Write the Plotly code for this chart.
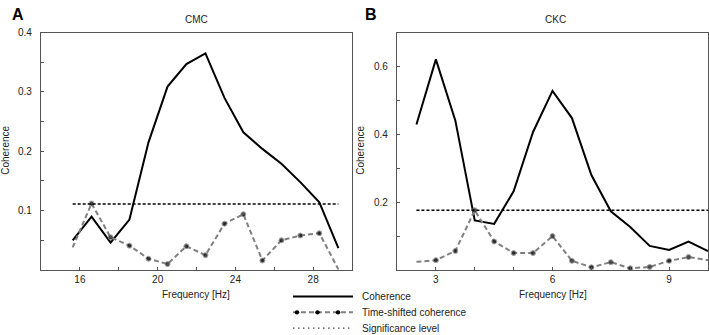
import plotly.graph_objects as go

W, H = 709, 335

# ---- Data: panel A (CMC) ----
freq_a = [15.63, 16.60, 17.58, 18.55, 19.53, 20.51, 21.48, 22.46, 23.44, 24.41,
          25.39, 26.37, 27.34, 28.32, 29.30]
coh_a = [0.050, 0.090, 0.046, 0.085, 0.215, 0.309, 0.347, 0.365, 0.290, 0.232,
         0.204, 0.179, 0.148, 0.114, 0.037]
shift_a = [0.038, 0.112, 0.055, 0.041, 0.019, 0.010, 0.040, 0.025, 0.078, 0.094,
           0.016, 0.050, 0.058, 0.062, 0.001]
sig_a = 0.111

# ---- Data: panel B (CKC) ----
freq_b = [2.5, 3.0, 3.5, 4.0, 4.5, 5.0, 5.5, 6.0, 6.5, 7.0, 7.5, 8.0, 8.5, 9.0, 9.5, 10.0]
coh_b = [0.429, 0.621, 0.441, 0.146, 0.136, 0.232, 0.407, 0.528, 0.448, 0.280,
         0.173, 0.127, 0.071, 0.059, 0.084, 0.056]
shift_b = [0.024, 0.029, 0.056, 0.176, 0.084, 0.050, 0.050, 0.100, 0.027, 0.008,
           0.023, 0.005, 0.009, 0.027, 0.038, 0.029]
sig_b = 0.176

xticks_a = [16, 20, 24, 28]
yticks_a = [0.1, 0.2, 0.3, 0.4]
xticks_b = [3, 6, 9]
yticks_b = [0.2, 0.4, 0.6]

legend_labels = ["Coherence", "Time-shifted coherence", "Significance level"]

FONT = "Arial, Liberation Sans, sans-serif"
TXT = "#222222"
AX = "#555555"
GRAY = "#808080"
FS = 10


def px(x):
    return x / W


def py(y):
    return 1 - y / H


fig = go.Figure()


def add_panel(freq, coh, shift, sig, xa, ya):
    fig.add_trace(go.Scatter(x=freq, y=coh, mode="lines",
                             line=dict(color="black", width=2),
                             xaxis=xa, yaxis=ya, showlegend=False))
    sizes = [0] + [5] * (len(freq) - 2) + [0]
    fig.add_trace(go.Scatter(x=freq, y=shift, mode="lines+markers",
                             line=dict(color=GRAY, width=2, dash="5px,3px"),
                             marker=dict(color="black", size=sizes),
                             xaxis=xa, yaxis=ya, showlegend=False))
    fig.add_trace(go.Scatter(x=[freq[0], freq[-1]], y=[sig, sig], mode="lines",
                             line=dict(color="black", width=1.5, dash="3px,2px"),
                             xaxis=xa, yaxis=ya, showlegend=False))


add_panel(freq_a, coh_a, shift_a, sig_a, "x", "y")
add_panel(freq_b, coh_b, shift_b, sig_b, "x2", "y2")

ydom = [py(269), py(28)]
common = dict(showline=True, linecolor=AX, linewidth=1.3, mirror=True,
              ticks="inside", ticklen=3, tickcolor=AX, showgrid=False,
              zeroline=False, tickfont=dict(family=FONT, size=FS, color=TXT))

fig.update_layout(
    width=W, height=H,
    margin=dict(l=0, r=0, t=0, b=0),
    plot_bgcolor="white", paper_bgcolor="white",
    xaxis=dict(domain=[px(41), px(352)], range=[14, 30], anchor="y",
               tickvals=xticks_a,
               minor=dict(tickvals=list(range(14, 31, 2)), ticks="inside", ticklen=3, tickcolor=AX),
               **common),
    yaxis=dict(domain=ydom, range=[0, 0.4], anchor="x",
               tickvals=yticks_a, ticktext=[f"{v:.1f}" for v in yticks_a],
               ticklabelstandoff=6,
               minor=dict(tickvals=[0.05, 0.15, 0.25, 0.35], ticks="inside", ticklen=3, tickcolor=AX),
               **common),
    xaxis2=dict(domain=[px(397), px(708)], range=[2, 10], anchor="y2",
                tickvals=xticks_b,
                minor=dict(tickvals=list(range(2, 11)), ticks="inside", ticklen=3, tickcolor=AX),
                **common),
    yaxis2=dict(domain=ydom, range=[0, 0.7], anchor="x2",
                tickvals=yticks_b, ticktext=[f"{v:.1f}" for v in yticks_b],
                ticklabelstandoff=6,
                minor=dict(tickvals=[0.1, 0.3, 0.5], ticks="inside", ticklen=3, tickcolor=AX),
                **common),
)

ann = []


def text(x, y, s, size=FS, bold=False, angle=0, xanchor="center"):
    ann.append(dict(x=px(x), y=py(y), xref="paper", yref="paper", text=f"<b>{s}</b>" if bold else s,
                    showarrow=False, xanchor=xanchor, yanchor="middle", textangle=angle,
                    font=dict(family=FONT, size=size, color="black" if bold else TXT)))


text(18, 10, "A", size=16, bold=True)
text(371, 10, "B", size=16, bold=True)
text(196, 15, "CMC")
text(555, 15, "CKC")
text(196, 294, "Frequency [Hz]")
text(553, 294, "Frequency [Hz]")
text(6, 148, "Coherence", angle=-90)
text(361, 148, "Coherence", angle=-90)

rows = [296, 312, 328]
for lab, ry in zip(legend_labels, rows):
    text(360, ry, lab, xanchor="left")

shapes = []
shapes.append(dict(type="line", xref="paper", yref="paper", x0=px(293), x1=px(353),
                   y0=py(rows[0]), y1=py(rows[0]), line=dict(color="black", width=2)))
shapes.append(dict(type="line", xref="paper", yref="paper", x0=px(293), x1=px(353),
                   y0=py(rows[1]), y1=py(rows[1]), line=dict(color=GRAY, width=2, dash="5px,3px")))
for mx in [297, 317.5, 338]:
    shapes.append(dict(type="circle", xref="paper", yref="paper", xsizemode="pixel", ysizemode="pixel",
                       xanchor=px(mx), yanchor=py(rows[1]), x0=-2.2, x1=2.2, y0=-2.2, y1=2.2,
                       fillcolor="black", line=dict(width=0)))
shapes.append(dict(type="line", xref="paper", yref="paper", x0=px(293), x1=px(353),
                   y0=py(rows[2]), y1=py(rows[2]), line=dict(color="#444444", width=1.2, dash="1.5px,3.5px")))

fig.update_layout(annotations=ann, shapes=shapes)
fig.write_html("out.html", config={"displayModeBar": False},
               post_script="document.body.style.margin='0';document.body.style.overflow='hidden';")
